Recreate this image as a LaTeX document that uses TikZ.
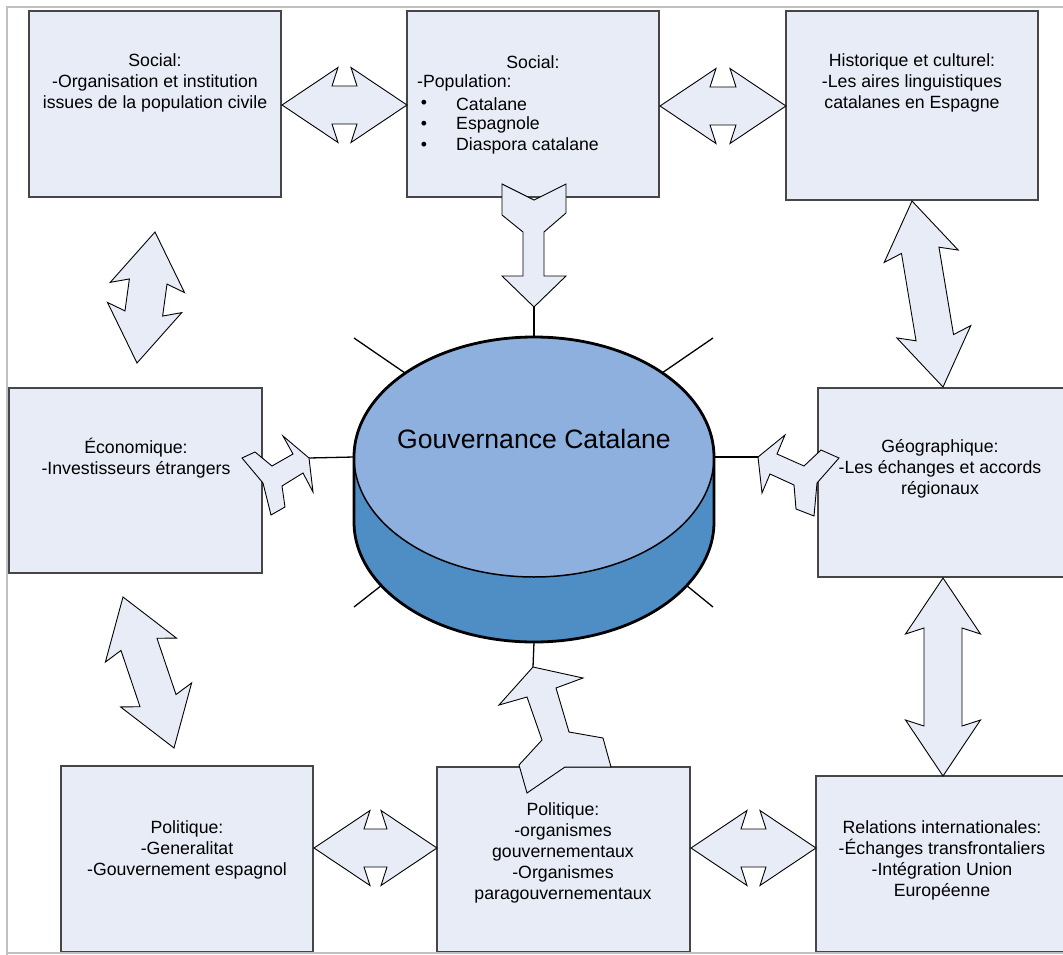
\documentclass[tikz,border=0pt]{standalone}
\usepackage{fontspec}
\setmainfont{Liberation Sans}
\usetikzlibrary{calc}
\definecolor{boxfill}{RGB}{231,236,247}
\definecolor{boxline}{RGB}{70,70,70}
\definecolor{cyltop}{RGB}{142,176,222}
\definecolor{cylside}{RGB}{79,141,197}
\definecolor{framegray}{RGB}{192,192,192}
\newcommand\dblarrow[2]{%
 \filldraw[blockarrow] (#1)
 -- ($(#1)!56pt!(#2)!37.5pt!90:(#2)$)
 -- ($(#1)!50pt!(#2)!19pt!90:(#2)$)
 -- ($(#2)!50pt!(#1)!19pt!-90:(#1)$)
 -- ($(#2)!56pt!(#1)!37.5pt!-90:(#1)$)
 -- (#2)
 -- ($(#2)!56pt!(#1)!37.5pt!90:(#1)$)
 -- ($(#2)!50pt!(#1)!19pt!90:(#1)$)
 -- ($(#1)!50pt!(#2)!19pt!-90:(#2)$)
 -- ($(#1)!56pt!(#2)!37.5pt!-90:(#2)$)
 -- cycle;}
\tikzset{
 panel/.style={draw=boxline, fill=boxfill, line width=1.2pt, inner sep=0pt},
 blockarrow/.style={fill=boxfill, draw=black, line width=0.9pt, line join=miter},
 txt/.style={inner sep=0pt, align=center, font=\fontsize{17.7}{21}\selectfont},
 spoke/.style={draw=black, line width=1.3pt},
}
\begin{document}
\begin{tikzpicture}[x=1pt,y=-1pt]
\useasboundingbox (0,0) rectangle (1063,955);
\draw[framegray, line width=1.2pt] (7,955) -- (7,7) -- (1063,7);
% boxes
\node[panel, minimum width=252pt, minimum height=186pt] (tl) at (155,104) {};
\node[panel, minimum width=252pt, minimum height=186pt] (tc) at (533,104) {};
\node[panel, minimum width=252pt, minimum height=189pt] (tr) at (912,105.5) {};
\node[panel, minimum width=253pt, minimum height=185pt] (ml) at (135.5,480.5) {};
\node[panel, minimum width=252pt, minimum height=189pt] (mr) at (944,482.5) {};
\node[panel, minimum width=252pt, minimum height=186pt] (bl) at (187,859) {};
\node[panel, minimum width=253pt, minimum height=185pt] (bc) at (563.5,859.5) {};
\node[panel, minimum width=252pt, minimum height=176pt] (br) at (942,864) {};
\draw[framegray, line width=1.2pt] (7,953) -- (1063,953);
% texts
\node[txt] (tltext) at (155,83) {Social:\\-Organisation et institution\\issues de la population civile};
\node[txt] (tcsoc) at (533,62) {Social:};
\node[txt, anchor=west] (tcpop) at (417,83) {-Population:};
\node[txt] (bu1) at (424,104) {•};
\node[txt] (bu2) at (424,125) {•};
\node[txt] (bu3) at (424,146) {•};
\node[txt, anchor=west] (it1) at (456,104) {Catalane};
\node[txt, anchor=west] (it2) at (456,125) {Espagnole};
\node[txt, anchor=west] (it3) at (456,146) {Diaspora catalane};
\node[txt] (trtext) at (912,83) {Historique et culturel:\\-Les aires linguistiques\\catalanes en Espagne};
\node[txt] (mltext) at (136,458) {Économique:\\-Investisseurs étrangers};
\node[txt] (mrtext) at (940,469) {Géographique:\\-Les échanges et accords\\régionaux};
\node[txt] (bltext) at (187,850) {Politique:\\-Generalitat\\-Gouvernement espagnol};
\node[txt] (bctext) at (563,853) {Politique:\\-organismes\\gouvernementaux\\-Organismes\\paragouvernementaux};
\node[txt] (brtext) at (942,860) {Relations internationales:\\-Échanges transfrontaliers\\-Intégration Union\\Européenne};
% cylinder
\coordinate (cylc) at (534,457);
\fill[cylside] (354,457) -- (354,522) arc[start angle=180,end angle=360,x radius=180pt,y radius=120pt] -- (714,457) -- cycle;
\filldraw[fill=cyltop, draw=black, line width=1.5pt] (cylc) ellipse [x radius=180pt, y radius=120pt];
\draw[black, line width=2.8pt] (714,457) -- (714,522) arc[start angle=0,end angle=-180,x radius=180pt,y radius=120pt] -- (354,457) arc[start angle=180,end angle=0,x radius=180pt,y radius=120pt] -- cycle;
\node[inner sep=0pt, font=\fontsize{26.6}{30}\selectfont] (gov) at (534,439) {Gouvernance Catalane};
% spoke coordinates
\coordinate (ctop) at (534,337);
\coordinate (cbot) at (534,642);
\coordinate (cleft) at (354,457);
\coordinate (cright) at (714,457);
\coordinate (cul) at (405,373);
\coordinate (cur) at (662,373);
\coordinate (cll) at (382,585);
\coordinate (clr) at (686,585);
\coordinate (oul) at (354,338);
\coordinate (our) at (713,338);
\coordinate (oll) at (354,607);
\coordinate (olr) at (713,607);
\coordinate (a3tip) at (534,307);
\coordinate (a4tip) at (309,458);
\coordinate (a5tip) at (758,457);
\coordinate (a6tip) at (533,667);
\draw[spoke] (oul) -- (cul);
\draw[spoke] (our) -- (cur);
\draw[spoke] (oll) -- (cll);
\draw[spoke] (olr) -- (clr);
\draw[spoke] (a3tip) -- (ctop);
\draw[spoke] (a4tip) -- (cleft);
\draw[spoke] (cright) -- (a5tip);
\draw[spoke] (cbot) -- (a6tip);
% double arrows
\coordinate (p1) at (282,105); \coordinate (q1) at (407,105);
\coordinate (p2) at (660,106); \coordinate (q2) at (786,106);
\coordinate (p7) at (155,232); \coordinate (q7) at (137,363);
\coordinate (p8) at (123,597); \coordinate (q8) at (174,748);
\coordinate (p9) at (912,201); \coordinate (q9) at (943,387);
\coordinate (p10) at (943,578); \coordinate (q10) at (943,776);
\coordinate (p11) at (314,848); \coordinate (q11) at (437,848);
\coordinate (p12) at (691,848); \coordinate (q12) at (816,848);
\dblarrow{p1}{q1}
\dblarrow{p2}{q2}
\dblarrow{p7}{q7}
\dblarrow{p8}{q8}
\dblarrow{p9}{q9}
\dblarrow{p10}{q10}
\dblarrow{p11}{q11}
\dblarrow{p12}{q12}
% bent arrows
\filldraw[blockarrow] (502,184) -- (534,200) -- (566,184) -- (566,213) -- (544,232) -- (544,276) -- (566,276) -- (a3tip) -- (502,276) -- (523,276) -- (523,232) -- (502,215) -- cycle;
\filldraw[blockarrow] (242,458) -- (255,452) -- (272,466) -- (293,454) -- (283,436) -- (a4tip) -- (313,492) -- (303,473) -- (282,486) -- (285,507) -- (271,515) -- (263,483) -- cycle;
\filldraw[blockarrow] (a5tip) -- (785,435) -- (777,454) -- (804,466) -- (821,450) -- (839,458) -- (817,483) -- (814,516) -- (796,509) -- (794,485) -- (770,474) -- (762,493) -- cycle;
\filldraw[blockarrow] (a6tip) -- (583,678) -- (556,688) -- (569,732) -- (603,738) -- (611,767) -- (565,767) -- (527,793) -- (519,765) -- (542,740) -- (527,697) -- (499,705) -- cycle;
\end{tikzpicture}
\end{document}
